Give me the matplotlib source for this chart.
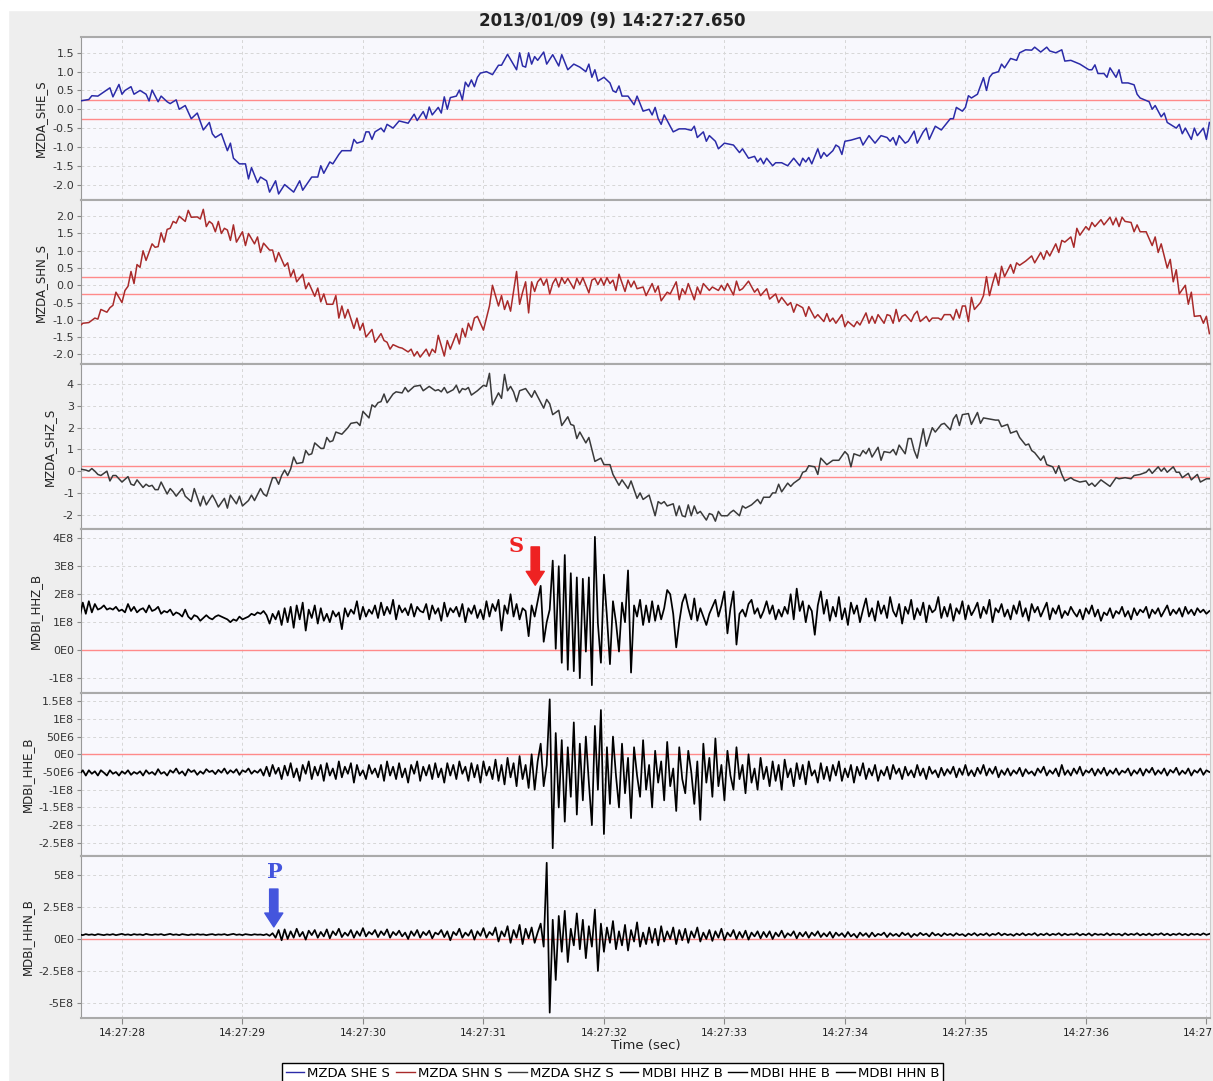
import numpy as np
import matplotlib.pyplot as plt
from matplotlib.patches import Rectangle
from matplotlib.lines import Line2D
from matplotlib.ticker import FuncFormatter

title = "2013/01/09 (9) 14:27:27.650"
t0 = 27.65      # seconds after 14:27:00
rate = 40.0     # samples per second of the read-off traces

# MZDA short period traces: (sample index, value)
she = [(0,0.22),(3,0.26),(4,0.36),(6,0.35),(10,0.57),(11,0.33),(13,0.66),(14,0.40),(15,0.50),(17,0.60),(18,0.40),
       (20,0.50),(22,0.40),(23,0.22),(24,0.51),(26,0.20),(27,0.35),(29,0.20),(30,0.15),(32,0.25),(33,0.00),(35,0.10),
       (37,-0.25),(39,-0.10),(41,-0.55),(43,-0.35),(44,-0.65),(45,-0.75),(47,-0.65),(49,-1.10),(50,-0.90),(51,-1.30),
       (53,-1.45),(55,-1.45),(56,-1.85),(57,-1.55),(59,-1.95),(60,-1.80),(62,-1.90),(63,-2.20),(65,-1.90),(66,-2.25),
       (68,-2.00),(71,-2.20),(73,-1.90),(74,-2.15),(77,-1.80),(79,-1.80),(80,-1.50),(81,-1.70),(83,-1.40),(84,-1.45),
       (86,-1.20),(87,-1.10),(90,-1.10),(91,-0.80),(92,-0.90),(94,-0.85),(95,-0.60),(96,-0.60),(97,-0.80),(98,-0.60),
       (100,-0.50),(101,-0.60),(102,-0.40),(104,-0.50),(106,-0.31),(109,-0.37),(111,-0.13),(112,-0.30),(114,-0.06),
       (115,-0.25),(116,0.06),(117,-0.15),(119,0.05),(120,-0.10),(121,0.33),(122,0.00),(123,0.31),(125,0.35),(126,0.51),
       (127,0.25),(128,0.72),(129,0.60),(130,0.78),(131,0.60),(132,0.85),(133,0.96),(135,1.00),(137,0.92),(139,1.17),
       (140,1.17),(142,1.46),(145,1.05),(146,1.50),(147,1.15),(148,1.12),(149,1.50),(150,1.20),(151,1.40),(152,1.30),
       (154,1.52),(155,1.20),(157,1.45),(159,1.15),(160,1.45),(162,1.05),(164,1.20),(166,1.12),(168,1.00),(169,1.20),
       (170,0.85),(171,1.05),(172,0.75),(174,0.85),(176,0.70),(177,0.49),(178,0.45),(179,0.62),(180,0.35),(182,0.35),
       (184,0.12),(185,0.35),(187,-0.05),(189,0.00),(190,-0.15),(191,0.05),(192,-0.25),(193,-0.40),(194,-0.15),
       (195,-0.30),(197,-0.60),(199,-0.52),(201,-0.52),(203,-0.56),(204,-0.45),(205,-0.75),(207,-0.60),(208,-0.85),
       (209,-0.70),(211,-0.85),(212,-1.05),(214,-0.90),(217,-0.95),(219,-1.15),(220,-1.05),(222,-1.30),(224,-1.25),
       (225,-1.40),(226,-1.30),(227,-1.45),(228,-1.30),(230,-1.50),(231,-1.42),(233,-1.42),(235,-1.50),(237,-1.30),
       (239,-1.50),(240,-1.30),(241,-1.40),(242,-1.28),(243,-1.45),(245,-1.05),(246,-1.30),(247,-1.15),(248,-1.25),
       (250,-1.10),(251,-0.95),(252,-1.00),(253,-1.20),(254,-0.85),(256,-0.82),(259,-0.75),(260,-0.95),(262,-0.70),
       (264,-0.90),(266,-0.70),(268,-0.75),(269,-0.85),(270,-0.75),(271,-0.95),(272,-0.70),(274,-0.90),(275,-0.85),
       (277,-0.58),(278,-0.90),(280,-0.60),(281,-0.50),(282,-0.80),(284,-0.45),(286,-0.55),(289,-0.25),(290,-0.25),
       (291,0.05),(293,-0.05),(294,0.05),(295,0.36),(296,0.30),(298,0.40),(300,0.84),(301,0.50),(302,0.85),(303,0.95),
       (305,1.00),(306,1.20),(307,1.10),(309,1.35),(311,1.30),(312,1.50),(314,1.58),(316,1.57),(317,1.65),(319,1.52),
       (321,1.65),(322,1.55),(324,1.50),(326,1.58),(327,1.28),(329,1.30),(332,1.20),(335,1.05),(336,1.05),(337,1.18),
       (338,0.95),(340,0.95),(341,0.85),(342,1.10),(344,0.85),(345,1.05),(346,0.70),(348,0.70),(350,0.65),(351,0.40),
       (352,0.30),(355,0.20),(356,0.00),(357,0.10),(359,-0.20),(360,-0.10),(361,-0.35),(364,-0.50),(365,-0.40),
       (366,-0.65),(367,-0.50),(369,-0.80),(370,-0.50),(371,-0.70),(373,-0.50),(374,-0.80),(375,-0.35)]

shn = [(0,-1.18),(1,-1.10),(3,-1.08),(5,-0.95),(6,-0.98),(7,-0.70),(9,-0.78),(10,-0.65),(11,-0.58),(12,-0.20),
       (14,-0.50),(15,-0.15),(16,-0.03),(17,0.40),(18,0.05),(19,0.60),(20,0.52),(21,1.00),(22,0.72),(24,1.20),(25,1.10),
       (26,1.12),(27,1.52),(28,1.25),(29,1.62),(30,1.65),(31,1.85),(32,1.80),(33,2.00),(35,1.85),(36,2.17),(37,1.97),
       (39,1.98),(40,1.92),(41,2.20),(42,1.70),(43,1.85),(44,1.78),(45,1.55),(46,1.85),(47,1.50),(48,1.65),(49,1.60),
       (50,1.30),(51,1.75),(52,1.25),(54,1.55),(55,1.15),(56,1.50),(58,1.20),(59,1.40),(60,0.95),(61,1.22),(63,1.02),
       (64,1.02),(65,0.68),(66,0.95),(68,0.55),(69,0.65),(70,0.25),(71,0.45),(72,0.10),(74,0.32),(75,-0.10),(76,0.07),
       (78,-0.32),(79,-0.08),(80,-0.48),(81,-0.25),(82,-0.55),(84,-0.55),(85,-0.30),(86,-0.95),(87,-0.60),(88,-0.95),
       (89,-0.70),(91,-1.25),(92,-0.95),(93,-1.30),(94,-1.10),(95,-1.50),(97,-1.28),(98,-1.65),(100,-1.40),(101,-1.60),
       (102,-1.65),(103,-1.85),(104,-1.72),(106,-1.80),(107,-1.82),(109,-1.93),(110,-1.85),(111,-2.05),(112,-1.92),
       (113,-2.08),(115,-1.85),(116,-2.05),(117,-1.85),(118,-1.95),(119,-1.45),(121,-2.05),(122,-1.60),(123,-1.85),
       (125,-1.40),(126,-1.70),(127,-1.25),(128,-1.50),(129,-1.10),(130,-1.30),(131,-0.95),(132,-0.90),(134,-1.30),
       (135,-0.95),(136,-0.60),(137,0.00),(139,-0.60),(140,-0.30),(141,-0.70),(142,-0.45),(143,-0.75),(145,0.40),
       (146,-0.55),(147,-0.20),(148,0.10),(149,-0.80),(150,0.10),(151,-0.18),(152,0.10),(153,0.20),(154,0.00),
       (155,0.18),(156,-0.25),(157,0.05),(158,0.20),(159,-0.05),(160,0.22),(161,0.05),(162,0.20),(164,-0.10),
       (165,0.20),(166,0.02),(167,0.22),(169,-0.22),(170,0.15),(171,0.20),(172,0.02),(173,0.20),(174,0.00),(175,0.22),
       (176,0.05),(177,0.15),(178,-0.15),(179,0.32),(181,-0.18),(182,0.15),(183,-0.05),(184,0.12),(185,-0.10),
       (187,-0.05),(188,-0.30),(190,0.05),(191,-0.20),(192,-0.02),(193,-0.45),(195,-0.20),(196,-0.25),(198,0.10),
       (199,-0.42),(200,-0.10),(201,-0.25),(202,0.05),(204,-0.42),(205,-0.05),(206,-0.25),(207,0.05),(209,-0.15),
       (210,-0.05),(212,-0.15),(213,0.00),(214,-0.15),(215,0.05),(217,-0.28),(218,0.12),(219,-0.15),(220,-0.10),
       (222,0.12),(224,-0.20),(225,-0.10),(226,-0.30),(228,-0.10),(229,-0.40),(231,-0.25),(232,-0.50),(233,-0.35),
       (235,-0.58),(236,-0.50),(237,-0.78),(238,-0.55),(240,-0.65),(241,-0.90),(242,-0.62),(244,-0.95),(245,-0.85),
       (247,-1.05),(248,-0.82),(249,-1.05),(250,-0.95),(251,-1.10),(253,-0.85),(254,-1.20),(255,-1.05),(257,-1.20),
       (258,-1.05),(259,-1.15),(261,-0.80),(262,-1.10),(263,-0.90),(264,-1.10),(265,-0.85),(267,-1.10),(268,-0.85),
       (269,-0.88),(270,-1.10),(271,-0.70),(272,-1.05),(273,-0.90),(274,-0.85),(276,-1.05),(277,-0.85),(278,-0.75),
       (279,-1.05),(281,-0.90),(282,-1.05),(283,-0.95),(285,-0.95),(286,-1.00),(287,-0.85),(289,-0.85),(290,-1.00),
       (291,-0.70),(292,-0.95),(293,-0.60),(294,-0.60),(295,-1.05),(296,-0.35),(297,-0.70),(299,-0.50),(300,-0.30),
       (301,0.25),(302,-0.30),(303,0.05),(304,0.35),(305,0.00),(306,0.55),(307,0.25),(309,0.60),(310,0.35),(311,0.65),
       (312,0.58),(314,0.70),(316,0.85),(317,0.65),(319,0.95),(320,0.75),(321,1.00),(322,0.85),(324,1.20),(325,0.95),
       (326,1.30),(327,1.25),(329,1.40),(330,1.10),(331,1.65),(332,1.45),(334,1.70),(335,1.60),(336,1.82),(337,1.70),
       (339,1.90),(340,1.75),(342,1.97),(343,1.75),(344,1.95),(345,1.70),(346,1.97),(347,1.85),(349,1.82),(350,1.55),
       (351,1.75),(352,1.55),(354,1.55),(356,1.15),(357,1.40),(358,0.95),(359,1.20),(361,0.50),(362,0.75),(363,0.10),
       (364,0.45),(365,-0.25),(367,0.00),(368,-0.55),(369,-0.20),(370,-0.90),(372,-0.88),(373,-1.10),(374,-0.90),
       (375,-1.40)]

shz = [(0,0.10),(2,0.05),(3,0.00),(4,0.12),(5,0.00),(6,-0.15),(7,-0.20),(9,0.00),(10,-0.45),(11,-0.20),(12,-0.20),
       (14,-0.50),(16,-0.25),(17,-0.60),(18,-0.65),(19,-0.40),(21,-0.75),(22,-0.60),(23,-0.70),(24,-0.65),(25,-0.85),
       (26,-0.85),(27,-0.50),(29,-1.05),(30,-0.80),(31,-0.95),(32,-1.15),(34,-0.80),(35,-1.15),(37,-1.40),(38,-0.80),
       (40,-1.60),(41,-1.15),(42,-1.55),(44,-1.10),(45,-1.35),(46,-1.65),(48,-1.25),(49,-1.70),(50,-1.10),(52,-1.50),
       (53,-1.15),(54,-1.60),(56,-1.35),(57,-1.10),(58,-1.35),(60,-0.80),(61,-1.05),(62,-1.15),(64,-0.30),(65,-0.30),
       (66,-0.60),(67,-0.20),(68,0.05),(69,-0.20),(70,0.10),(71,0.65),(72,0.35),(74,0.40),(75,0.95),(76,0.75),(77,0.80),
       (78,1.30),(80,1.05),(81,1.05),(82,1.55),(83,1.35),(84,1.40),(85,1.80),(87,1.70),(89,2.00),(90,2.20),(92,2.25),
       (93,2.10),(94,2.75),(95,2.60),(96,2.45),(97,3.05),(98,2.95),(99,3.15),(100,3.20),(101,3.55),(102,3.15),
       (104,3.55),(105,3.65),(107,3.60),(108,3.85),(109,3.65),(111,3.90),(113,3.95),(114,3.70),(116,3.90),(118,3.70),
       (119,3.75),(120,3.65),(121,3.85),(122,3.60),(124,3.75),(125,3.95),(126,3.60),(127,3.80),(128,3.75),(129,3.85),
       (130,3.50),(132,3.70),(134,3.95),(135,3.90),(136,4.50),(137,3.05),(139,3.60),(140,3.35),(141,4.45),(142,3.70),
       (143,3.90),(144,3.65),(145,3.20),(146,3.70),(148,3.80),(150,3.40),(151,3.70),(154,2.90),(155,3.30),(156,3.10),
       (157,2.60),(159,2.80),(160,2.10),(162,2.50),(163,2.15),(164,2.10),(165,1.50),(166,1.80),(168,1.30),(169,1.55),
       (171,0.45),(173,0.60),(174,0.30),(176,0.30),(177,-0.15),(179,-0.65),(180,-0.40),(182,-0.80),(183,-0.45),
       (185,-1.25),(186,-1.00),(187,-1.30),(189,-1.10),(191,-2.05),(192,-1.40),(193,-1.50),(194,-1.40),(195,-1.60),
       (197,-1.50),(198,-2.05),(199,-1.60),(200,-2.05),(201,-2.10),(202,-1.55),(203,-2.05),(204,-1.60),(205,-1.95),
       (206,-1.85),(208,-2.25),(209,-1.95),(210,-2.00),(211,-2.30),(212,-1.85),(213,-2.05),(215,-2.05),(216,-1.90),
       (217,-1.80),(219,-2.05),(220,-1.60),(221,-1.70),(223,-1.55),(225,-1.30),(226,-1.50),(227,-1.20),(229,-1.20),
       (230,-1.00),(231,-1.00),(232,-0.60),(233,-0.95),(235,-0.55),(236,-0.70),(237,-0.55),(239,-0.35),(240,-0.05),
       (241,0.00),(242,0.25),(244,0.20),(245,-0.15),(246,0.60),(248,0.30),(250,0.50),(252,0.50),(254,0.90),(255,0.75),
       (256,0.20),(257,0.80),(259,0.70),(260,0.95),(261,0.80),(262,1.05),(263,0.65),(265,1.10),(266,0.50),(267,0.90),
       (269,0.85),(270,1.00),(271,0.75),(272,1.20),(274,0.80),(275,1.50),(276,1.50),(277,0.95),(278,0.60),(280,1.95),
       (281,1.15),(283,2.00),(284,1.80),(286,2.15),(287,2.20),(289,1.90),(290,2.40),(291,2.60),(292,2.10),(293,2.60),
       (295,2.65),(296,2.15),(298,2.70),(299,2.20),(300,2.45),(302,2.40),(304,2.35),(305,2.35),(306,2.05),(308,2.15),
       (309,1.75),(311,1.85),(312,1.55),(314,1.20),(315,1.25),(316,0.95),(317,0.85),(319,0.50),(320,0.70),(321,0.30),
       (323,0.20),(324,-0.10),(325,0.25),(326,-0.15),(327,-0.45),(329,-0.30),(330,-0.40),(332,-0.50),(334,-0.45),
       (335,-0.65),(336,-0.55),(337,-0.70),(339,-0.40),(341,-0.60),(342,-0.70),(344,-0.30),(345,-0.35),(347,-0.30),
       (349,-0.35),(350,-0.20),(352,-0.15),(354,-0.05),(355,0.10),(356,-0.10),(358,0.20),(359,0.00),(360,0.15),
       (361,-0.05),(363,0.20),(364,-0.05),(365,-0.05),(366,-0.30),(368,-0.10),(369,-0.40),(371,-0.15),(372,-0.50),
       (374,-0.35),(375,-0.35)]

# MDBI broadband traces, one value per sample (units of 1E8)
hhz = [1.2, 1.7, 1.3, 1.75, 1.35, 1.65, 1.45, 1.5, 1.6, 1.45, 1.5, 1.45, 1.55,
       1.4, 1.45, 1.35, 1.65, 1.4, 1.55, 1.35, 1.45,
       1.5, 1.35, 1.6, 1.4, 1.45, 1.55, 1.3, 1.4, 1.35, 1.45,
       1.25, 1.35, 1.3, 1.2, 1.45, 1.2, 1.1, 1.25, 1.2, 1.05,
       1.15, 1.25, 1.15, 1.1, 1.2, 1.25, 1.2, 1.15, 1.1, 1.0,
       1.1, 1.05, 1.2, 1.1, 1.15, 1.2, 1.3, 1.25, 1.35, 1.3,
       1.4, 1.25, 0.95, 1.3, 1.1, 1.4, 0.9, 1.5, 1.0, 1.55,
       0.8, 1.6, 1.1, 1.7, 0.7, 1.45, 1.15, 1.6, 0.95, 1.5,
       1.05, 1.3, 1.0, 1.4, 1.2, 1.35, 0.75, 1.5, 1.2, 1.45,
       1.3, 1.75, 1.1, 1.55, 1.2, 1.45, 1.3, 1.6, 1.15, 1.7,
       1.25, 1.55, 1.3, 1.8, 1.1, 1.6, 1.35, 1.5, 1.25, 1.65,
       1.2, 1.55, 1.4, 1.35, 1.65, 1.1, 1.6, 1.3, 1.5, 1.05,
       1.7, 1.2, 1.5, 1.35, 1.55, 1.2, 1.65, 1.0, 1.5, 1.3,
       1.6, 1.15, 1.45, 1.1, 1.75, 1.2, 1.65, 1.4, 1.8, 0.7,
       1.6, 1.3, 2.0, 1.2, 1.65, 1.1, 1.5, 1.4, 0.5, 1.6,
       1.2, 1.75, 2.3, 0.3, 1.0, 1.45, 3.2, 0.05, 3.0, -0.45,
       3.4, -0.7, 2.75, -0.75, 2.6, -1.0, 2.55, -0.05, 2.6, -1.25,
       4.05, 0.95, -0.45, 2.7, 1.2, -0.5, 1.75, 1.0, -0.05, 1.7,
       1.0, 2.85, -0.8, 1.6, 1.2, 1.8, 0.9, 1.6, 1.0, 1.75,
       1.05, 1.6, 1.1, 1.5, 2.15, 2.0, 1.3, 0.1, 1.0, 1.7,
       2.0, 1.5, 1.1, 1.85, 1.05, 1.5, 1.2, 0.9, 1.3, 1.55,
       1.8, 1.2, 1.6, 2.1, 0.6, 1.5, 2.1, 0.2, 1.3, 1.45,
       1.2, 1.65, 1.8, 1.3, 1.5, 1.15, 1.4, 1.75, 1.3, 1.6,
       1.1, 1.45, 1.2, 1.55, 1.3, 2.0, 1.1, 2.2, 1.4, 1.75,
       1.0, 1.6, 1.4, 0.55, 1.6, 2.1, 1.3,
       1.8, 1.05, 1.55, 1.2, 1.9, 1.1, 1.5, 0.9, 1.7, 1.3,
       1.6, 1.0, 1.45, 1.85, 1.2, 1.5, 1.05, 1.75, 1.3, 1.6,
       1.15, 1.9, 1.4, 1.2, 1.65, 0.95, 1.55, 1.3, 1.8, 1.1,
       1.5, 1.25, 1.7, 1.0, 1.6, 1.35, 1.45, 1.9, 1.15, 1.55,
       1.2, 1.65, 1.05, 1.5, 1.3, 1.75, 1.1, 1.6, 1.25, 1.45,
       1.7, 1.15, 1.55, 1.3, 1.8, 1.0, 1.5, 1.35, 1.65, 1.2,
       1.45, 1.1, 1.6, 1.3, 1.75, 1.2, 1.5, 1.05, 1.65, 1.35,
       1.55, 1.2, 1.45, 1.7, 1.1, 1.5, 1.3, 1.6, 1.15, 1.4,
       1.25, 1.55, 1.35, 1.2, 1.45, 1.1, 1.5, 1.3, 1.6, 1.2,
       1.45, 1.05, 1.35, 1.25, 1.5, 1.15, 1.4, 1.3, 1.55, 1.2,
       1.4, 1.1, 1.5, 1.25, 1.45, 1.35, 1.55, 1.15, 1.45, 1.3,
       1.5, 1.2, 1.4, 1.6, 1.25, 1.45, 1.3, 1.5, 1.2, 1.55,
       1.3, 1.45, 1.25, 1.5, 1.35, 1.45, 1.3, 1.4]

hhe = [-0.55, -0.45, -0.6, -0.45, -0.55, -0.48, -0.6, -0.45, -0.52, -0.6,
       -0.45, -0.55, -0.5, -0.6, -0.48, -0.55, -0.45, -0.58, -0.5, -0.55,
       -0.48, -0.6, -0.45, -0.55, -0.5, -0.58, -0.42, -0.55, -0.5, -0.6,
       -0.45, -0.52, -0.4, -0.55, -0.48, -0.6, -0.42, -0.5, -0.45, -0.58,
       -0.48, -0.55, -0.42, -0.5, -0.46, -0.56, -0.44, -0.52, -0.4, -0.55,
       -0.45, -0.52, -0.42, -0.58, -0.45, -0.5, -0.4, -0.55, -0.46, -0.52,
       -0.42, -0.6, -0.35, -0.62, -0.3, -0.55, -0.38, -0.7, -0.32, -0.6,
       -0.25, -0.65, -0.4, -0.75, -0.3, -0.55, -0.2, -0.7, -0.35, -0.6,
       -0.3, -0.75, -0.25, -0.6, -0.4, -0.7, -0.2, -0.65, -0.35, -0.55,
       -0.25, -0.8, -0.3, -0.6, -0.45, -0.7, -0.3, -0.55, -0.4, -0.65,
       -0.3, -0.75, -0.2, -0.6, -0.35, -0.7, -0.25, -0.65, -0.4, -0.8,
       -0.3, -0.55, -0.2, -0.75, -0.35, -0.6, -0.3, -0.7, -0.25, -0.65,
       -0.4, -0.8, -0.25, -0.6, -0.3, -0.7, -0.2, -0.55, -0.35, -0.75,
       -0.25, -0.65, -0.3, -0.8, -0.2, -0.6, -0.35, -0.7, -0.15, -0.75,
       -0.3, -0.85, -0.1, -0.65, -0.25, -0.9, -0.05, -0.7, -0.3, -0.95,
       0.0, -1.0, -0.2, 0.3, -0.9, -0.3, 1.55, -2.65, 0.6, -1.5,
       0.4, -1.9, 0.2, -1.2, 0.9, -1.7, 0.3, -1.3, 0.5, -0.8,
       -2.0, 0.8, -1.0, 1.25, -2.25, 0.2, -1.4, 0.5, -0.6, -1.5,
       0.3, -1.1, -0.1, -1.8, 0.2, -0.6, -1.2, 0.4, -1.0, -0.3,
       -1.5, 0.1, -0.8, -0.2, -1.3, 0.35, -0.9, -0.4, -1.6, 0.2,
       -0.7, -1.1, 0.1, -0.5, -1.4, -0.2, -1.85, 0.3, -0.8, -0.1,
       -1.2, 0.45, -0.9, -0.3, -1.3, 0.1, -0.6, -1.0, 0.2, -0.7,
       -0.3, -1.1, 0.0, -0.8, -0.4, -1.0, -0.1, -0.7, -0.35, -0.9,
       -0.2, -0.75, -0.3, -1.0, -0.15, -0.65, -0.4, -0.9, -0.25, -0.7,
       -0.3, -0.85, -0.2, -0.6, -0.45, -0.8, -0.25, -0.7, -0.35, -0.75,
       -0.3, -0.6, -0.2, -0.75, -0.4, -0.65, -0.3, -0.8, -0.35, -0.6,
       -0.25, -0.7, -0.4, -0.6, -0.3, -0.75, -0.45, -0.6, -0.35, -0.7,
       -0.3, -0.55, -0.4, -0.7, -0.35, -0.6, -0.45, -0.65, -0.3, -0.6,
       -0.4, -0.7, -0.35, -0.55, -0.45, -0.65, -0.38, -0.6, -0.42, -0.55,
       -0.35, -0.65, -0.4, -0.58, -0.3, -0.6, -0.45, -0.62, -0.38, -0.55,
       -0.3, -0.6, -0.4, -0.55, -0.35, -0.65, -0.45, -0.58, -0.4, -0.6,
       -0.45, -0.55, -0.38, -0.62, -0.42, -0.55, -0.48, -0.6, -0.4, -0.52,
       -0.35, -0.6, -0.45, -0.55, -0.4, -0.62, -0.3, -0.58, -0.45, -0.6,
       -0.4, -0.55, -0.35, -0.6, -0.45, -0.52, -0.4, -0.6, -0.42, -0.55,
       -0.38, -0.6, -0.45, -0.55, -0.4, -0.58, -0.46, -0.52, -0.4, -0.6,
       -0.45, -0.55, -0.4, -0.6, -0.42, -0.52, -0.38, -0.58, -0.45, -0.55,
       -0.4, -0.6, -0.44, -0.52, -0.38, -0.58, -0.46, -0.55, -0.4, -0.6,
       -0.45, -0.52, -0.4, -0.58, -0.45, -0.5]

hhn = [0.35, 0.3, 0.38, 0.32, 0.36, 0.3, 0.38, 0.34, 0.3, 0.36,
       0.32, 0.38, 0.3, 0.35, 0.4, 0.32, 0.36, 0.3, 0.38, 0.33,
       0.36, 0.3, 0.4, 0.34, 0.31, 0.37, 0.33, 0.38, 0.3, 0.35,
       0.4, 0.32, 0.36, 0.3, 0.38, 0.34, 0.3, 0.36, 0.32, 0.38,
       0.33, 0.36, 0.3, 0.35, 0.38, 0.31, 0.36, 0.33, 0.38, 0.3,
       0.35, 0.4, 0.32, 0.36, 0.3, 0.38, 0.34, 0.31, 0.37, 0.33,
       0.35, 0.3, 0.38, 0.25, 0.45, 0.1, 0.7, -0.1, 0.75, 0.0,
       0.6, 0.1, 0.8, 0.2, 0.55, -0.05, 0.65, 0.3, 0.7, 0.1,
       0.55, 0.2, 0.75, 0.05, 0.6, 0.3, 0.8, 0.15, 0.5, 0.25,
       0.7, 0.1, 0.6, 0.25, 0.85, 0.2, 0.55, 0.35, 0.7, 0.15,
       0.6, 0.3, 0.75, 0.1, 0.55, 0.3, 0.65, 0.2, 0.5, 0.0,
       0.6, 0.25, 0.7, 0.1, 0.55, 0.3, 0.65, 0.05, 0.5, 0.35,
       0.7, 0.15, 0.6, -0.1, 0.55, 0.3, 0.8, 0.1, 0.5, 0.25,
       0.7, -0.05, 0.6, 0.25, 0.85, 0.1, 0.55, 0.3, 0.9, -0.2,
       0.6, 0.2, 1.0, -0.3, 0.7, 0.1, 1.1, -0.4, 0.8, 0.05,
       0.9, -0.3, 0.5, 1.2, -0.6, 5.95, -5.75, 1.5, -3.2, 1.8,
       -1.0, 2.2, -1.8, 0.8, -0.5, 2.0, -0.8, 1.5, -1.5, 1.0,
       -0.6, 2.3, -2.5, 1.2, -1.0, 0.9, -0.3, 1.4, -0.8, 0.6,
       -0.5, 1.1, -0.9, 0.7, -0.2, 1.3, -0.6, 0.5, -0.4, 0.9,
       -0.3, 0.8, -0.5, 1.0, -0.2, 0.6, 0.0, 0.9, -0.4, 0.7,
       -0.1, 0.8, -0.3, 0.6, 0.1, 0.9, -0.2, 0.5, 0.0, 0.7,
       -0.15, 0.6, 0.1, 0.8, -0.1, 0.5, 0.2, 0.7, 0.0, 0.55,
       0.1, 0.65, -0.05, 0.5, 0.2, 0.6, 0.05, 0.55, 0.15, 0.6,
       0.0, 0.5, 0.2, 0.65, 0.1, 0.45, 0.25, 0.6, 0.05, 0.5,
       0.2, 0.55, 0.1, 0.5, 0.25, 0.6, 0.15, 0.45, 0.2, 0.55,
       0.1, 0.5, 0.25, 0.45, 0.15, 0.55, 0.2, 0.4, 0.1, 0.5,
       0.25, 0.45, 0.15, 0.5, 0.2, 0.4, 0.3, 0.5, 0.15, 0.45,
       0.25, 0.4, 0.2, 0.5, 0.3, 0.45, 0.15, 0.4, 0.25, 0.48,
       0.3, 0.42, 0.2, 0.5, 0.28, 0.4, 0.22, 0.45, 0.3, 0.4,
       0.25, 0.45, 0.3, 0.38, 0.22, 0.42, 0.3, 0.46, 0.26, 0.4,
       0.3, 0.45, 0.25, 0.4, 0.32, 0.48, 0.28, 0.42, 0.3, 0.38,
       0.25, 0.42, 0.3, 0.45, 0.28, 0.4, 0.32, 0.46, 0.26, 0.4,
       0.3, 0.44, 0.28, 0.4, 0.32, 0.45, 0.27, 0.42, 0.3, 0.38,
       0.33, 0.45, 0.28, 0.4, 0.3, 0.44, 0.26, 0.42, 0.32, 0.38,
       0.3, 0.45, 0.28, 0.42, 0.33, 0.4, 0.27, 0.44, 0.3, 0.4,
       0.32, 0.45, 0.28, 0.4, 0.3, 0.43, 0.27, 0.4, 0.33, 0.45,
       0.3, 0.42, 0.28, 0.4, 0.32, 0.44, 0.3, 0.4, 0.28, 0.42,
       0.33, 0.4, 0.3, 0.44, 0.32, 0.4]

names = ["MZDA_SHE_S", "MZDA_SHN_S", "MZDA_SHZ_S", "MDBI_HHZ_B", "MDBI_HHE_B", "MDBI_HHN_B"]
legend_names = ["MZDA SHE S", "MZDA SHN S", "MZDA SHZ S", "MDBI HHZ B", "MDBI HHE B", "MDBI HHN B"]
colors = ["#2b2ba8", "#a82a2a", "#3a3a3a", "#000000", "#000000", "#000000"]

ticks = [[1.5, 1.0, 0.5, 0.0, -0.5, -1.0, -1.5, -2.0],
         [2.0, 1.5, 1.0, 0.5, 0.0, -0.5, -1.0, -1.5, -2.0],
         [4, 3, 2, 1, 0, -1, -2],
         [4e8, 3e8, 2e8, 1e8, 0, -1e8],
         [1.5e8, 1e8, 0.5e8, 0, -0.5e8, -1e8, -1.5e8, -2e8, -2.5e8],
         [5e8, 2.5e8, 0, -2.5e8, -5e8]]
tick_labels = [["1.5", "1.0", "0.5", "0.0", "-0.5", "-1.0", "-1.5", "-2.0"],
               ["2.0", "1.5", "1.0", "0.5", "0.0", "-0.5", "-1.0", "-1.5", "-2.0"],
               ["4", "3", "2", "1", "0", "-1", "-2"],
               ["4E8", "3E8", "2E8", "1E8", "0E0", "-1E8"],
               ["1.5E8", "1E8", "50E6", "0E0", "-50E6", "-1E8", "-1.5E8", "-2E8", "-2.5E8"],
               ["5E8", "2.5E8", "0E0", "-2.5E8", "-5E8"]]
ylims = [(-2.41, 1.92), (-2.28, 2.47), (-2.66, 4.93), (-1.53e8, 4.33e8), (-2.87e8, 1.73e8), (-6.17e8, 6.48e8)]
ref_lines = [[0.25, -0.25], [0.25, -0.25], [0.25, -0.25], [0], [0], [0]]
label_x = [-0.030, -0.030, -0.022, -0.035, -0.042, -0.042]
second_ticks = list(range(28, 38))

W, H = 1213, 1081
fig = plt.figure(figsize=(W / 100, H / 100), dpi=100, facecolor="#eeeeee")
fig.add_artist(Rectangle((0, 0), 8 / W, 1, transform=fig.transFigure, color="white", zorder=-5))
fig.add_artist(Rectangle((0, 1 - 10 / H), 1, 10 / H, transform=fig.transFigure, color="white", zorder=-5))

fig.text(0.505, 1 - 21 / H, title, ha="center", va="center", fontsize=12, fontweight="bold", color="#222222")

edges = [37, 200, 364, 529, 693, 856, 1018]
traces = []
for tr in (she, shn, shz):
    arr = np.array(tr)
    traces.append((t0 + arr[:, 0] / rate, arr[:, 1]))
for tr in (hhz, hhe, hhn):
    v = np.array(tr) * 1e8
    traces.append((t0 + np.arange(len(v)) / rate, v))

axes = []
for i in range(6):
    top, bot = edges[i], edges[i + 1]
    ax = fig.add_axes([81 / W, 1 - bot / H, 1129 / W, (bot - top) / H])
    ax.set_facecolor("#f8f8fd")
    ax.set_xlim(27.66, 37.03)
    ax.set_ylim(*ylims[i])
    for r in ref_lines[i]:
        ax.axhline(r, color="#ff8a8a", lw=1.0, zorder=2)
    t, v = traces[i]
    ax.plot(t, v, color=colors[i], lw=1.1 if i < 3 else 1.25, zorder=3)
    ax.set_yticks(ticks[i])
    ax.set_yticklabels(tick_labels[i])
    ax.set_xticks(second_ticks)
    ax.grid(True, ls=(0, (3, 3)), color="#d6d6d6", lw=0.7)
    ax.set_axisbelow(True)
    ax.tick_params(axis="y", direction="out", length=3, color="#888888", labelsize=8, labelcolor="#333333", pad=2)
    ax.tick_params(axis="x", direction="out", length=4 if i == 5 else 0, color="#888888",
                   labelbottom=(i == 5), labelsize=7.5, labelcolor="#222222", pad=3)
    for s in ("top", "bottom"):
        ax.spines[s].set_color("#aaaaaa")
        ax.spines[s].set_linewidth(1.5)
    ax.spines["left"].set_color("#999999")
    ax.spines["right"].set_color("#cccccc")
    ax.set_ylabel(names[i], fontsize=8.5, color="#222222")
    ax.yaxis.set_label_coords(label_x[i], 0.5)
    axes.append(ax)

axes[5].xaxis.set_major_formatter(FuncFormatter(lambda v, p: "14:27:%02d" % round(v)))
axes[5].set_xlabel("Time (sec)", fontsize=9.5, color="#222222", labelpad=1)

# S and P picks
arrow = dict(arrowstyle="simple,head_width=0.65,head_length=0.5,tail_width=0.3",
             shrinkA=0, shrinkB=0, mutation_scale=20)
axes[3].annotate("", xy=(31.43, 2.32e8), xytext=(31.43, 3.69e8),
                 arrowprops=dict(arrow, color="#ee2222"), zorder=5)
axes[3].text(31.27, 3.72e8, "S", color="#ee2222", fontsize=15, fontweight="bold",
             family="DejaVu Serif", ha="center", va="center")
axes[5].annotate("", xy=(29.26, 0.94e8), xytext=(29.26, 3.9e8),
                 arrowprops=dict(arrow, color="#4455dd"), zorder=5)
axes[5].text(29.27, 5.25e8, "P", color="#4455dd", fontsize=15, fontweight="bold",
             family="DejaVu Serif", ha="center", va="center")

handles = [Line2D([], [], color=c, lw=1.0) for c in colors]
leg = fig.legend(handles, legend_names, loc="lower center", bbox_to_anchor=(0.505, -0.008), ncol=6,
                 fontsize=9.5, handlelength=1.4, handletextpad=0.25, columnspacing=0.45, borderpad=0.25,
                 fancybox=False, edgecolor="black", framealpha=1)
leg.get_frame().set_linewidth(1.0)

fig.savefig("out.png", dpi=100, facecolor=fig.get_facecolor())
